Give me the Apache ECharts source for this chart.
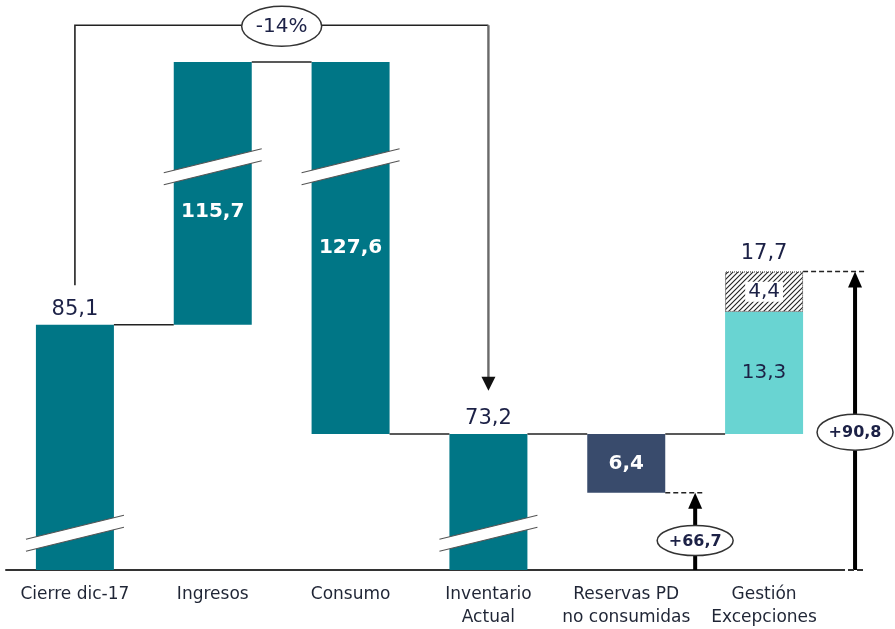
<!DOCTYPE html>
<html>
<head>
<meta charset="utf-8">
<script src="https://cdn.jsdelivr.net/npm/echarts@6/dist/echarts.min.js"></script>
<style>html,body{margin:0;padding:0;background:#fff}#main{width:895px;height:629px}</style>
</head>
<body>
<div id="main"></div>
<script>
// ---- data ----
const categories = ['Cierre dic-17', 'Ingresos', 'Consumo', 'Inventario\nActual', 'Reservas PD\nno consumidas', 'Gestión\nExcepciones'];
const barBase = [0, 85.1, 73.2, 0, 66.8, 73.2];
const barValue = [85.1, 115.7, 127.6, 73.2, 6.4, 13.3];
const hatchValue = ['-', '-', '-', '-', '-', 4.4];
const gestionTotal = [5, 90.9, 17.7];
const connectorLevel = [85.1, 200.8, 73.2, 73.2, 73.2];
const breakCat = [0, 1, 2, 3];
const breakLevel = [62.4, 102.3, 102.3, 62.4];
const variation = { label: '-14%', from: 0, to: 3 };
const arrowCat = [4, 5];
const arrowTop = [66.8, 90.9];
const arrowLabel = ['+66,7', '+90,8'];

// ---- layout / style constants ----
const Y_MIN = 58.4, Y_MAX = 113.7;
const BAR_W = 78;
const FONT = 'DejaVu Sans';
const TXT = '#1c2146';
const barColors = ['#007686', '#007686', '#007686', '#007686', '#394b6c', '#69d4d2'];
const labelPos = ['top', 'inside', 'inside', 'top', 'inside', 'inside'];
const labelColor = [TXT, '#fff', '#fff', TXT, '#fff', TXT];
const labelOffset = [[0, 0], [0, 18], [0, 0], [0, 0], [0, 0], [0, 0]];
const fmt = v => String(v).replace('.', ',');

function makeHatch() {
  const c = document.createElement('canvas');
  c.width = 5; c.height = 5;
  const g = c.getContext('2d');
  g.fillStyle = '#fff'; g.fillRect(0, 0, 5, 5);
  g.strokeStyle = '#222'; g.lineWidth = 1.1;
  g.beginPath();
  g.moveTo(-1, 6); g.lineTo(6, -1);
  g.moveTo(-3.5, 3.5); g.lineTo(3.5, -3.5);
  g.moveTo(1.5, 8.5); g.lineTo(8.5, 1.5);
  g.stroke();
  return c;
}

const chart = echarts.init(document.getElementById('main'));

const option = {
  animation: false,
  grid: { left: 6, right: 62, top: 62, bottom: 53, containLabel: false },
  xAxis: {
    type: 'category',
    data: categories,
    axisLine: { lineStyle: { color: '#333', width: 2 } },
    axisTick: { show: false },
    axisLabel: { fontFamily: FONT, fontSize: 17, color: '#1f2535', lineHeight: 23, margin: 13, interval: 0 }
  },
  yAxis: { type: 'value', min: Y_MIN, max: Y_MAX, show: false, splitLine: { show: false } },
  series: [
    {
      type: 'bar', stack: 'w', barWidth: BAR_W, clip: true, silent: true,
      itemStyle: { color: 'transparent' },
      data: barBase
    },
    {
      type: 'bar', stack: 'w', barWidth: BAR_W, clip: true,
      data: barValue.map((v, i) => ({
        value: v,
        itemStyle: { color: barColors[i] },
        label: {
          show: true, position: labelPos[i], distance: 5, offset: labelOffset[i],
          color: labelColor[i], fontFamily: FONT, fontSize: labelPos[i] === 'top' ? 21 : 20,
          fontWeight: labelColor[i] === '#fff' ? 'bold' : 'normal',
          formatter: () => fmt(v)
        }
      }))
    },
    {
      type: 'bar', stack: 'w', barWidth: BAR_W, clip: true,
      itemStyle: { color: { image: makeHatch(), repeat: 'repeat' }, borderColor: '#333', borderWidth: 1, borderType: 'dotted' },
      label: {
        show: true, position: 'inside', color: TXT, fontFamily: FONT, fontSize: 20,
        backgroundColor: '#fff', padding: [0, 3],
        formatter: p => fmt(p.value)
      },
      data: hatchValue
    },
    // total label above the stacked Gestión bar
    {
      type: 'custom', silent: true, z: 5,
      data: [gestionTotal],
      renderItem(params, api) {
        const p = api.coord([api.value(0), api.value(1)]);
        return { type: 'text', style: { text: fmt(api.value(2)), x: p[0], y: p[1] - 7, align: 'center', verticalAlign: 'bottom', fill: TXT, font: '21px ' + FONT } };
      }
    },
    // connectors between bars
    {
      type: 'custom', silent: true, z: 3,
      data: connectorLevel.map((l, i) => [i, l]),
      renderItem(params, api) {
        const band = api.size([1, 0])[0];
        const p = api.coord([api.value(0), Math.min(api.value(1), Y_MAX)]);
        return { type: 'line', shape: { x1: p[0] + BAR_W / 2, y1: p[1], x2: p[0] + band - BAR_W / 2, y2: p[1] }, style: { stroke: '#222', lineWidth: 1.6 } };
      }
    },
    // axis break marks
    {
      type: 'custom', silent: true, z: 6,
      data: breakCat.map((c, i) => [c, breakLevel[i]]),
      renderItem(params, api) {
        const p = api.coord([api.value(0), api.value(1)]);
        const hw = BAR_W / 2 + 10, s = 12, g = 6;
        const x1 = p[0] - hw, x2 = p[0] + hw, y = p[1];
        return {
          type: 'group', children: [
            { type: 'polygon', shape: { points: [[x1, y + s - g], [x2, y - s - g], [x2, y - s + g], [x1, y + s + g]] }, style: { fill: '#fff' } },
            { type: 'line', shape: { x1: x1, y1: y + s - g, x2: x2, y2: y - s - g }, style: { stroke: '#555', lineWidth: 1.2 } },
            { type: 'line', shape: { x1: x1, y1: y + s + g, x2: x2, y2: y - s + g }, style: { stroke: '#555', lineWidth: 1.2 } }
          ]
        };
      }
    },
    // -14% bracket
    {
      type: 'custom', silent: true, z: 4,
      data: [[variation.from, variation.to, 89.4, 77.9, 117.7]],
      renderItem(params, api) {
        const a = api.coord([api.value(0), api.value(2)]);
        const t = api.coord([api.value(0), api.value(4)]);
        const b = api.coord([api.value(1), api.value(3)]);
        const ty = t[1];
        const mx = (a[0] + b[0]) / 2;
        return {
          type: 'group', children: [
            { type: 'polyline', shape: { points: [[a[0], a[1]], [a[0], ty], [b[0], ty]] }, style: { stroke: '#222', lineWidth: 1.6, fill: null } },
            { type: 'line', shape: { x1: b[0], y1: ty, x2: b[0], y2: b[1] - 12 }, style: { stroke: '#6a6a6a', lineWidth: 2.4 } },
            { type: 'polygon', shape: { points: [[b[0] - 7, b[1] - 14], [b[0] + 7, b[1] - 14], [b[0], b[1]]] }, style: { fill: '#111' } },
            { type: 'ellipse', shape: { cx: mx, cy: ty + 1, rx: 40, ry: 20 }, style: { fill: '#fff', stroke: '#333', lineWidth: 1.5 } },
            { type: 'text', style: { text: variation.label, x: mx, y: ty + 2, align: 'center', verticalAlign: 'middle', fill: TXT, font: '20px ' + FONT } }
          ]
        };
      }
    },
    // total arrows (+66,7 / +90,8)
    {
      type: 'custom', silent: true, z: 4,
      data: arrowCat.map((c, i) => [c, arrowTop[i], i]),
      renderItem(params, api) {
        const i = api.value(2);
        const cat = api.value(0);
        const band = api.size([1, 0])[0];
        const frac = i === 0 ? 0.5 : 0.66;
        const ellLevel = i === 0 ? 61.6 : 73.4;
        const ext = i === 0 ? 8 : 10;
        const c = api.coord([cat, api.value(1)]);
        const base = api.coord([cat, Y_MIN]);
        const e = api.coord([cat, ellLevel]);
        const x = c[0] + frac * band;
        const kids = [
          { type: 'line', shape: { x1: c[0] + BAR_W / 2, y1: c[1], x2: x + ext, y2: c[1] }, style: { stroke: '#222', lineWidth: 1.5, lineDash: [5, 3] } },
          { type: 'line', shape: { x1: x, y1: base[1], x2: x, y2: c[1] + 14 }, style: { stroke: '#000', lineWidth: 4 } },
          { type: 'polygon', shape: { points: [[x - 7, c[1] + 16], [x + 7, c[1] + 16], [x, c[1]]] }, style: { fill: '#000' } },
          { type: 'ellipse', shape: { cx: x, cy: e[1], rx: 38, ry: i === 0 ? 15 : 18 }, style: { fill: '#fff', stroke: '#333', lineWidth: 1.5 } },
          { type: 'text', style: { text: arrowLabel[i], x: x, y: e[1] + 1, align: 'center', verticalAlign: 'middle', fill: TXT, font: 'bold 16px ' + FONT } }
        ];
        if (i === 1) {
          const gx = c[0] + band / 2;
          kids.push({ type: 'line', shape: { x1: gx, y1: base[1], x2: gx + 6, y2: base[1] }, style: { stroke: '#333', lineWidth: 2 } });
          kids.push({ type: 'line', shape: { x1: gx + 6, y1: base[1], x2: x + ext, y2: base[1] }, style: { stroke: '#333', lineWidth: 2, lineDash: [6, 3] } });
        }
        return { type: 'group', children: kids };
      }
    }
  ]
};
chart.setOption(option);
</script>
</body>
</html>
